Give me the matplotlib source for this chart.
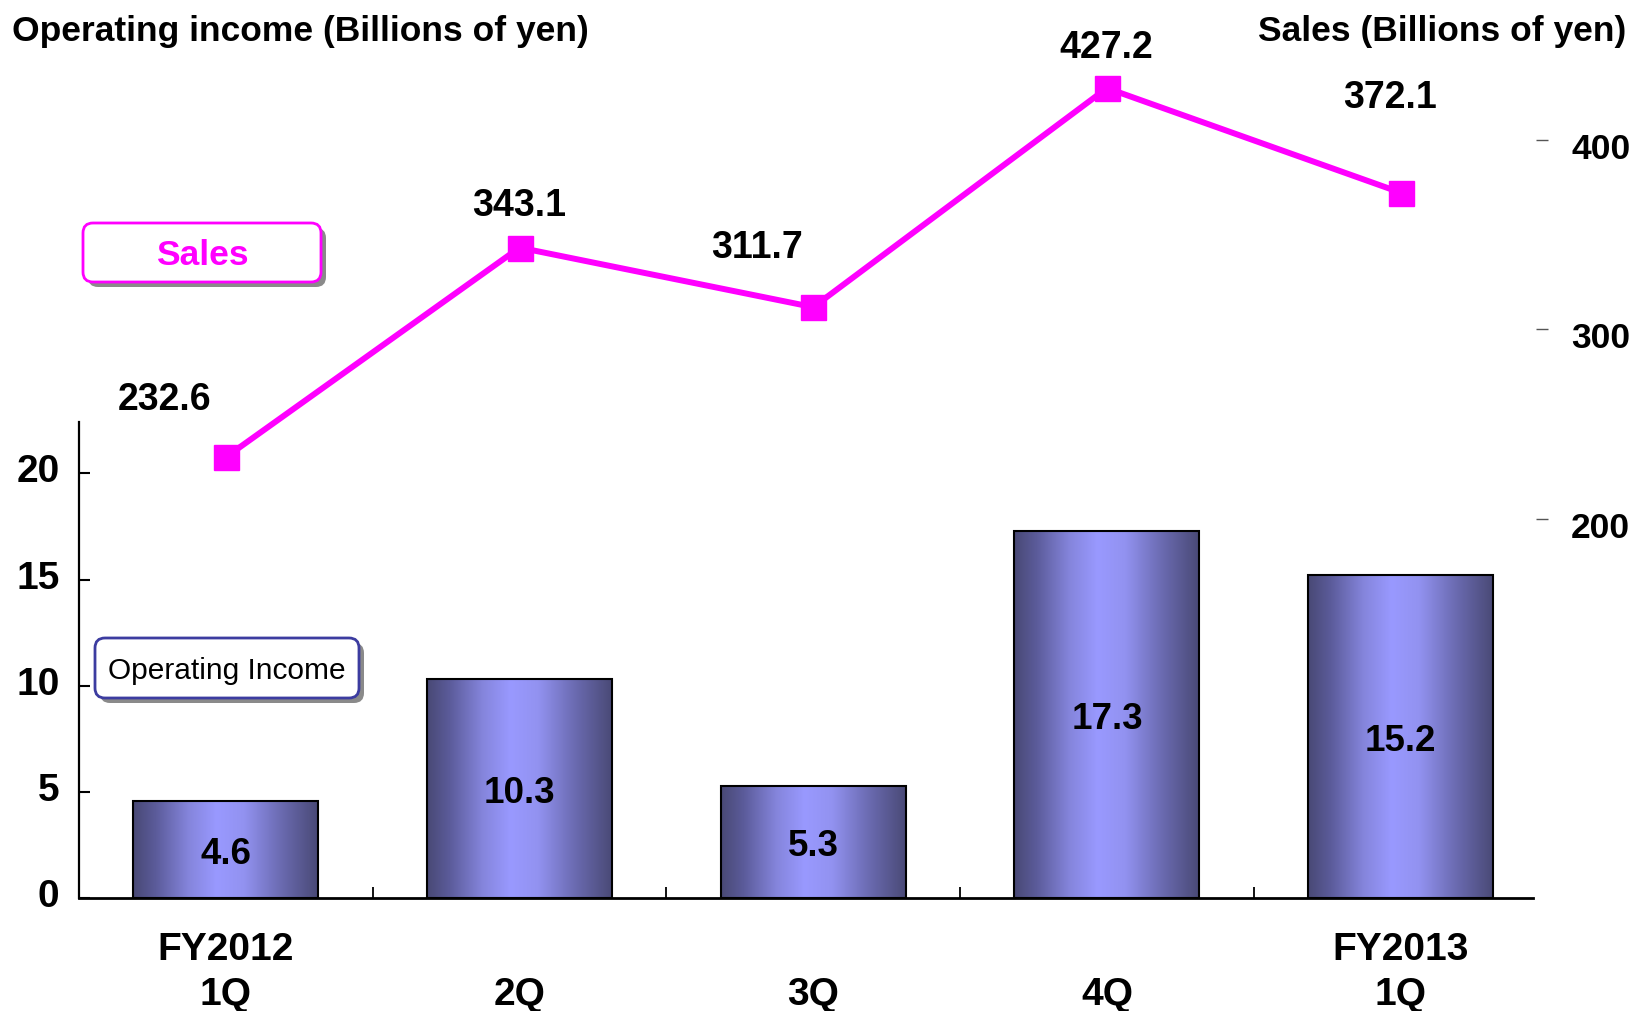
import numpy as np
import matplotlib
matplotlib.use('Agg')
import matplotlib.pyplot as plt
from matplotlib.colors import LinearSegmentedColormap
from matplotlib.patches import FancyBboxPatch
from matplotlib.transforms import IdentityTransform, ScaledTranslation

# ---- data ----
categories = ['FY2012\n1Q', '\n2Q', '\n3Q', '\n4Q', 'FY2013\n1Q']
operating_income = [4.6, 10.3, 5.3, 17.3, 15.2]
sales = [232.6, 343.1, 311.7, 427.2, 372.1]
left_ticks = [0, 5, 10, 15, 20]
right_ticks = [200, 300, 400]

# label placement offsets for sales values (pixels)
label_offsets = [(-61, 57), (0, 42), (-56, 59), (-1, 40), (-11, 95)]

plt.rcParams['font.family'] = ['Liberation Sans', 'DejaVu Sans']
W, H = 1636, 1011
fig = plt.figure(figsize=(W / 100, H / 100), dpi=100)

L, R, B, T = 79, 1547.5, 898.3, 60
ax = fig.add_axes([L / W, (H - B) / H, (R - L) / W, (B - T) / H])
x = np.arange(len(categories))

bars = ax.bar(x, operating_income, width=0.63, facecolor='none',
              edgecolor='black', linewidth=1.5, zorder=3)
cmap = LinearSegmentedColormap.from_list('barg', [
    (0.0, '#494975'), (0.12, '#5b5b9a'), (0.3, '#8585dc'), (0.45, '#9999ff'),
    (0.6, '#9292f0'), (0.8, '#6a6ab0'), (1.0, '#494975')])
grad = np.linspace(0, 1, 256).reshape(1, -1)
for b in bars:
    x0, y0, w, h = b.get_x(), b.get_y(), b.get_width(), b.get_height()
    im = ax.imshow(grad, cmap=cmap, extent=[x0, x0 + w, y0, y0 + h],
                   aspect='auto', zorder=2, interpolation='bilinear')
    im.set_clip_path(b)

ax.set_xlim(-0.5, len(categories) - 0.5)
ax.set_ylim(0, (B - T) / 21.25)

for xi, v in zip(x, operating_income):
    ax.annotate(f'{v}', (xi, v / 2), xytext=(0, -5), textcoords='offset pixels',
                ha='center', va='center', fontsize=26.5, fontweight='bold', zorder=4)

for s in ['top', 'right']:
    ax.spines[s].set_visible(False)
ax.spines['left'].set_bounds(0, 22.4)
ax.spines['left'].set_linewidth(1.6)
ax.spines['bottom'].set_bounds(-0.5, 4.45)
ax.spines['bottom'].set_linewidth(2)

ax.set_xticks(x)
ax.set_xticklabels(categories, linespacing=1.32)
ax.set_xticks(np.arange(len(categories) - 1) + 0.5, minor=True)
ax.tick_params(axis='x', which='major', length=0, pad=24.5, labelsize=28)
ax.tick_params(axis='x', which='minor', direction='in', length=8, width=1.3)
for lab in ax.get_xticklabels():
    lab.set_fontweight('bold')

ax.set_yticks(left_ticks)
ax.tick_params(axis='y', direction='in', length=8, width=1.5, pad=14, labelsize=28)
up5 = ScaledTranslation(0, 5 / 100, fig.dpi_scale_trans)
for lab in ax.get_yticklabels():
    lab.set_fontweight('bold')
    lab.set_transform(lab.get_transform() + up5)

ax2 = ax.twinx()
ax2.set_ylim(0, (B - T) / 1.8965)
for s in ax2.spines.values():
    s.set_visible(False)
ax2.set_yticks(right_ticks)
ax2.tick_params(axis='y', direction='in', length=8.6, width=1, color='#555555',
                pad=17, labelsize=25.5)
down6 = ScaledTranslation(0, -6 / 100, fig.dpi_scale_trans)
for lab in ax2.get_yticklabels():
    lab.set_fontweight('bold')
    lab.set_transform(lab.get_transform() + down6)

ax2.plot(x, sales, color='#ff00ff', lw=4.3, marker='s', ms=18, zorder=5)
for xi, v, off in zip(x, sales, label_offsets):
    ax2.annotate(f'{v}', (xi, v), xytext=off, textcoords='offset pixels',
                 ha='center', va='center', fontsize=27, fontweight='bold')

fig.text(12.5 / W, 1 - 32 / H, 'Operating income (Billions of yen)', ha='left',
         va='center', fontsize=25.5, fontweight='bold')
fig.text(1626 / W, 1 - 32 / H, 'Sales (Billions of yen)', ha='right',
         va='center', fontsize=25.5, fontweight='bold')


def legend_box(x0, y0, x1, y1, ec, text, tcolor, size, weight, dy):
    tr = IdentityTransform()
    sh = FancyBboxPatch((x0 + 5, H - y1 - 5), x1 - x0, y1 - y0,
                        boxstyle='round,pad=0,rounding_size=10',
                        fc='#8a8a8a', ec='none', transform=tr, zorder=6)
    bx = FancyBboxPatch((x0, H - y1), x1 - x0, y1 - y0,
                        boxstyle='round,pad=0,rounding_size=10',
                        fc='white', ec=ec, lw=2, transform=tr, zorder=7)
    fig.add_artist(sh)
    fig.add_artist(bx)
    fig.text((x0 + x1) / 2 / W, 1 - ((y0 + y1) / 2 + dy) / H, text, ha='center',
             va='center', fontsize=size, fontweight=weight, color=tcolor, zorder=8)


legend_box(83, 223, 321, 282, '#ff00ff', 'Sales', '#ff00ff', 25.5, 'bold', 3)
legend_box(95, 638, 359, 698, '#3c3ca0', 'Operating Income', 'black', 21.5, 'normal', 3)

fig.savefig('out.png', dpi=100)
